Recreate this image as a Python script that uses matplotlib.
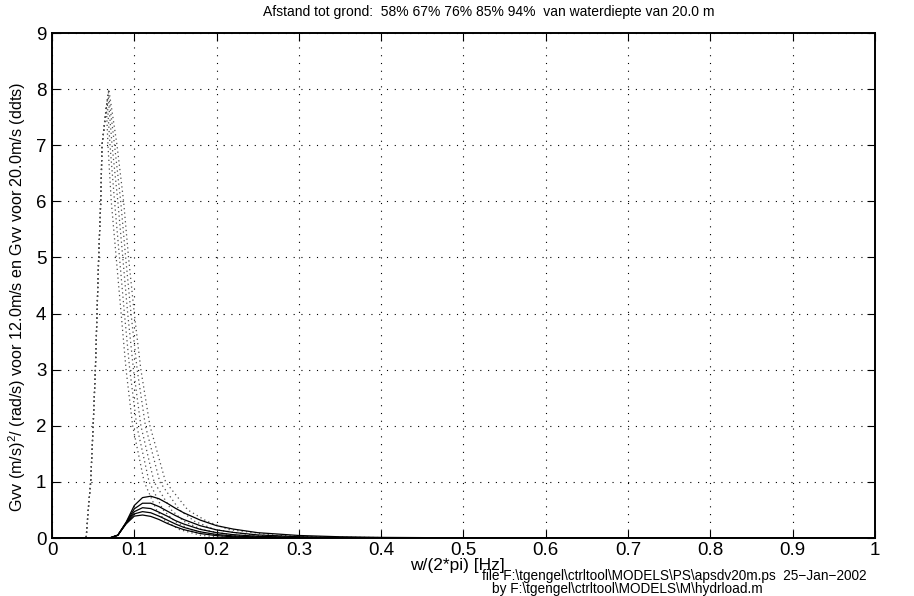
"""
Velocity spectra at several heights above the bottom, 12.0 m/s and 20.0 m/s wind.
"""
import matplotlib
matplotlib.use("Agg")
import matplotlib.pyplot as plt

plt.rcParams['font.family'] = ['Liberation Sans', 'DejaVu Sans']
plt.rcParams['mathtext.fontset'] = 'custom'
plt.rcParams['mathtext.rm'] = 'Liberation Sans'

heights = ['58%', '67%', '76%', '85%', '94%']

# 12.0 m/s spectra (solid), read on a common frequency grid
freq_12 = [0.0, 0.07, 0.08, 0.09, 0.10, 0.11, 0.12, 0.13, 0.14, 0.15,
           0.16, 0.18, 0.20, 0.22, 0.25, 0.30, 0.35, 0.40, 0.50, 1.0]
gvv_12 = {
    '58%': [0, 0, 0.05, 0.25, 0.39, 0.41, 0.385, 0.33, 0.26, 0.20,
            0.15, 0.08, 0.042, 0.022, 0.008, 0.002, 0, 0, 0, 0],
    '67%': [0, 0, 0.05, 0.26, 0.43, 0.47, 0.45, 0.39, 0.32, 0.25,
            0.19, 0.11, 0.063, 0.037, 0.016, 0.004, 0.001, 0, 0, 0],
    '76%': [0, 0, 0.05, 0.27, 0.47, 0.54, 0.525, 0.46, 0.39, 0.31,
            0.25, 0.155, 0.095, 0.06, 0.03, 0.01, 0.004, 0.001, 0, 0],
    '85%': [0, 0, 0.05, 0.27, 0.52, 0.62, 0.62, 0.56, 0.48, 0.40,
            0.33, 0.22, 0.145, 0.10, 0.055, 0.022, 0.01, 0.004, 0.001, 0],
    '94%': [0, 0, 0.05, 0.28, 0.58, 0.72, 0.745, 0.70, 0.62, 0.53,
            0.45, 0.32, 0.22, 0.16, 0.095, 0.045, 0.022, 0.011, 0.003, 0],
}

# 20.0 m/s spectra (dotted): shared rising flank, then peak and falling flank
rise_f_20 = [0.0, 0.040, 0.0415, 0.044, 0.047, 0.050, 0.0527, 0.0547, 0.0567, 0.0592, 0.0608]
rise_g_20 = [0, 0, 0.0, 0.5, 1, 2, 3, 4, 5, 6, 7]
fall_g_20 = [7, 6, 5, 4, 3, 2, 1, 0.5, 0.3, 0.15, 0.05, 0.02, 0]
peak_20 = {'58%': (0.066, 7.7), '67%': (0.067, 7.8), '76%': (0.068, 7.9),
           '85%': (0.0685, 7.95), '94%': (0.069, 8.0)}
fall_f_20 = {
    '58%': [0.068, 0.072, 0.078, 0.084, 0.090, 0.098, 0.112, 0.127, 0.138, 0.155, 0.18, 0.20, 0.26],
    '67%': [0.0705, 0.076, 0.082, 0.088, 0.0945, 0.103, 0.118, 0.135, 0.149, 0.168, 0.20, 0.23, 0.30],
    '76%': [0.073, 0.080, 0.086, 0.092, 0.099, 0.108, 0.124, 0.145, 0.160, 0.182, 0.22, 0.26, 0.34],
    '85%': [0.076, 0.0835, 0.0895, 0.096, 0.1035, 0.1135, 0.131, 0.155, 0.173, 0.198, 0.245, 0.29, 0.38],
    '94%': [0.079, 0.087, 0.093, 0.100, 0.108, 0.119, 0.138, 0.165, 0.188, 0.215, 0.27, 0.32, 0.45],
}

fig = plt.figure(figsize=(9.14, 5.96), dpi=100)
ax = fig.add_axes([0.0569, 0.0973, 0.9003, 0.8473])

for h in heights:
    pf, pg = peak_20[h]
    f = rise_f_20 + [pf] + fall_f_20[h] + [1.0]
    g = rise_g_20 + [pg] + fall_g_20 + [0]
    ax.plot(f, g, color='0.3', linestyle=(0, (1, 2.5)), linewidth=0.9)

for h in heights:
    ax.plot(freq_12, gvv_12[h], color='black', linewidth=0.9)

ax.set_xlim(0, 1)
ax.set_ylim(0, 9)
ax.set_xticks([0, 0.1, 0.2, 0.3, 0.4, 0.5, 0.6, 0.7, 0.8, 0.9, 1])
ax.set_xticklabels(['0', '0.1', '0.2', '0.3', '0.4', '0.5', '0.6', '0.7', '0.8', '0.9', '1'])
ax.set_yticks(range(10))
ax.grid(True, color='black', linestyle=(0, (1, 6)), linewidth=0.8)
ax.tick_params(direction='in', length=6, width=0.8, labelsize=13.5,
               top=True, right=True)
ax.tick_params(axis='x', pad=3)
ax.tick_params(axis='y', pad=4)
for s in ax.spines.values():
    s.set_linewidth(1.4)

ax.set_xlabel('w/(2*pi) [Hz]', fontsize=12.5)
ax.xaxis.set_label_coords((457 - 52) / 823, -0.04)
ax.set_ylabel('Gvv (m/s)$^2$/ (rad/s) voor 12.0m/s en Gvv voor 20.0m/s (ddts)',
              fontsize=11.6)
ax.yaxis.set_label_coords(-(52 - 28) / 823, (538 - 297) / 505)

fig.text(489 / 914, 1 - 12 / 596,
         'Afstand tot grond:  58% 67% 76% 85% 94%  van waterdiepte van 20.0 m',
         fontsize=10, ha='center', va='center')

fig.text(482 / 914, 1 - 576 / 596,
         'file F:\\tgengel\\ctrltool\\MODELS\\PS\\apsdv20m.ps  25\u2212Jan\u22122002',
         fontsize=9.8, ha='left', va='center')
fig.text(492 / 914, 1 - 589 / 596,
         'by F:\\tgengel\\ctrltool\\MODELS\\M\\hydrload.m',
         fontsize=9.8, ha='left', va='center')

fig.savefig('out.png', dpi=100)
plt.close(fig)
